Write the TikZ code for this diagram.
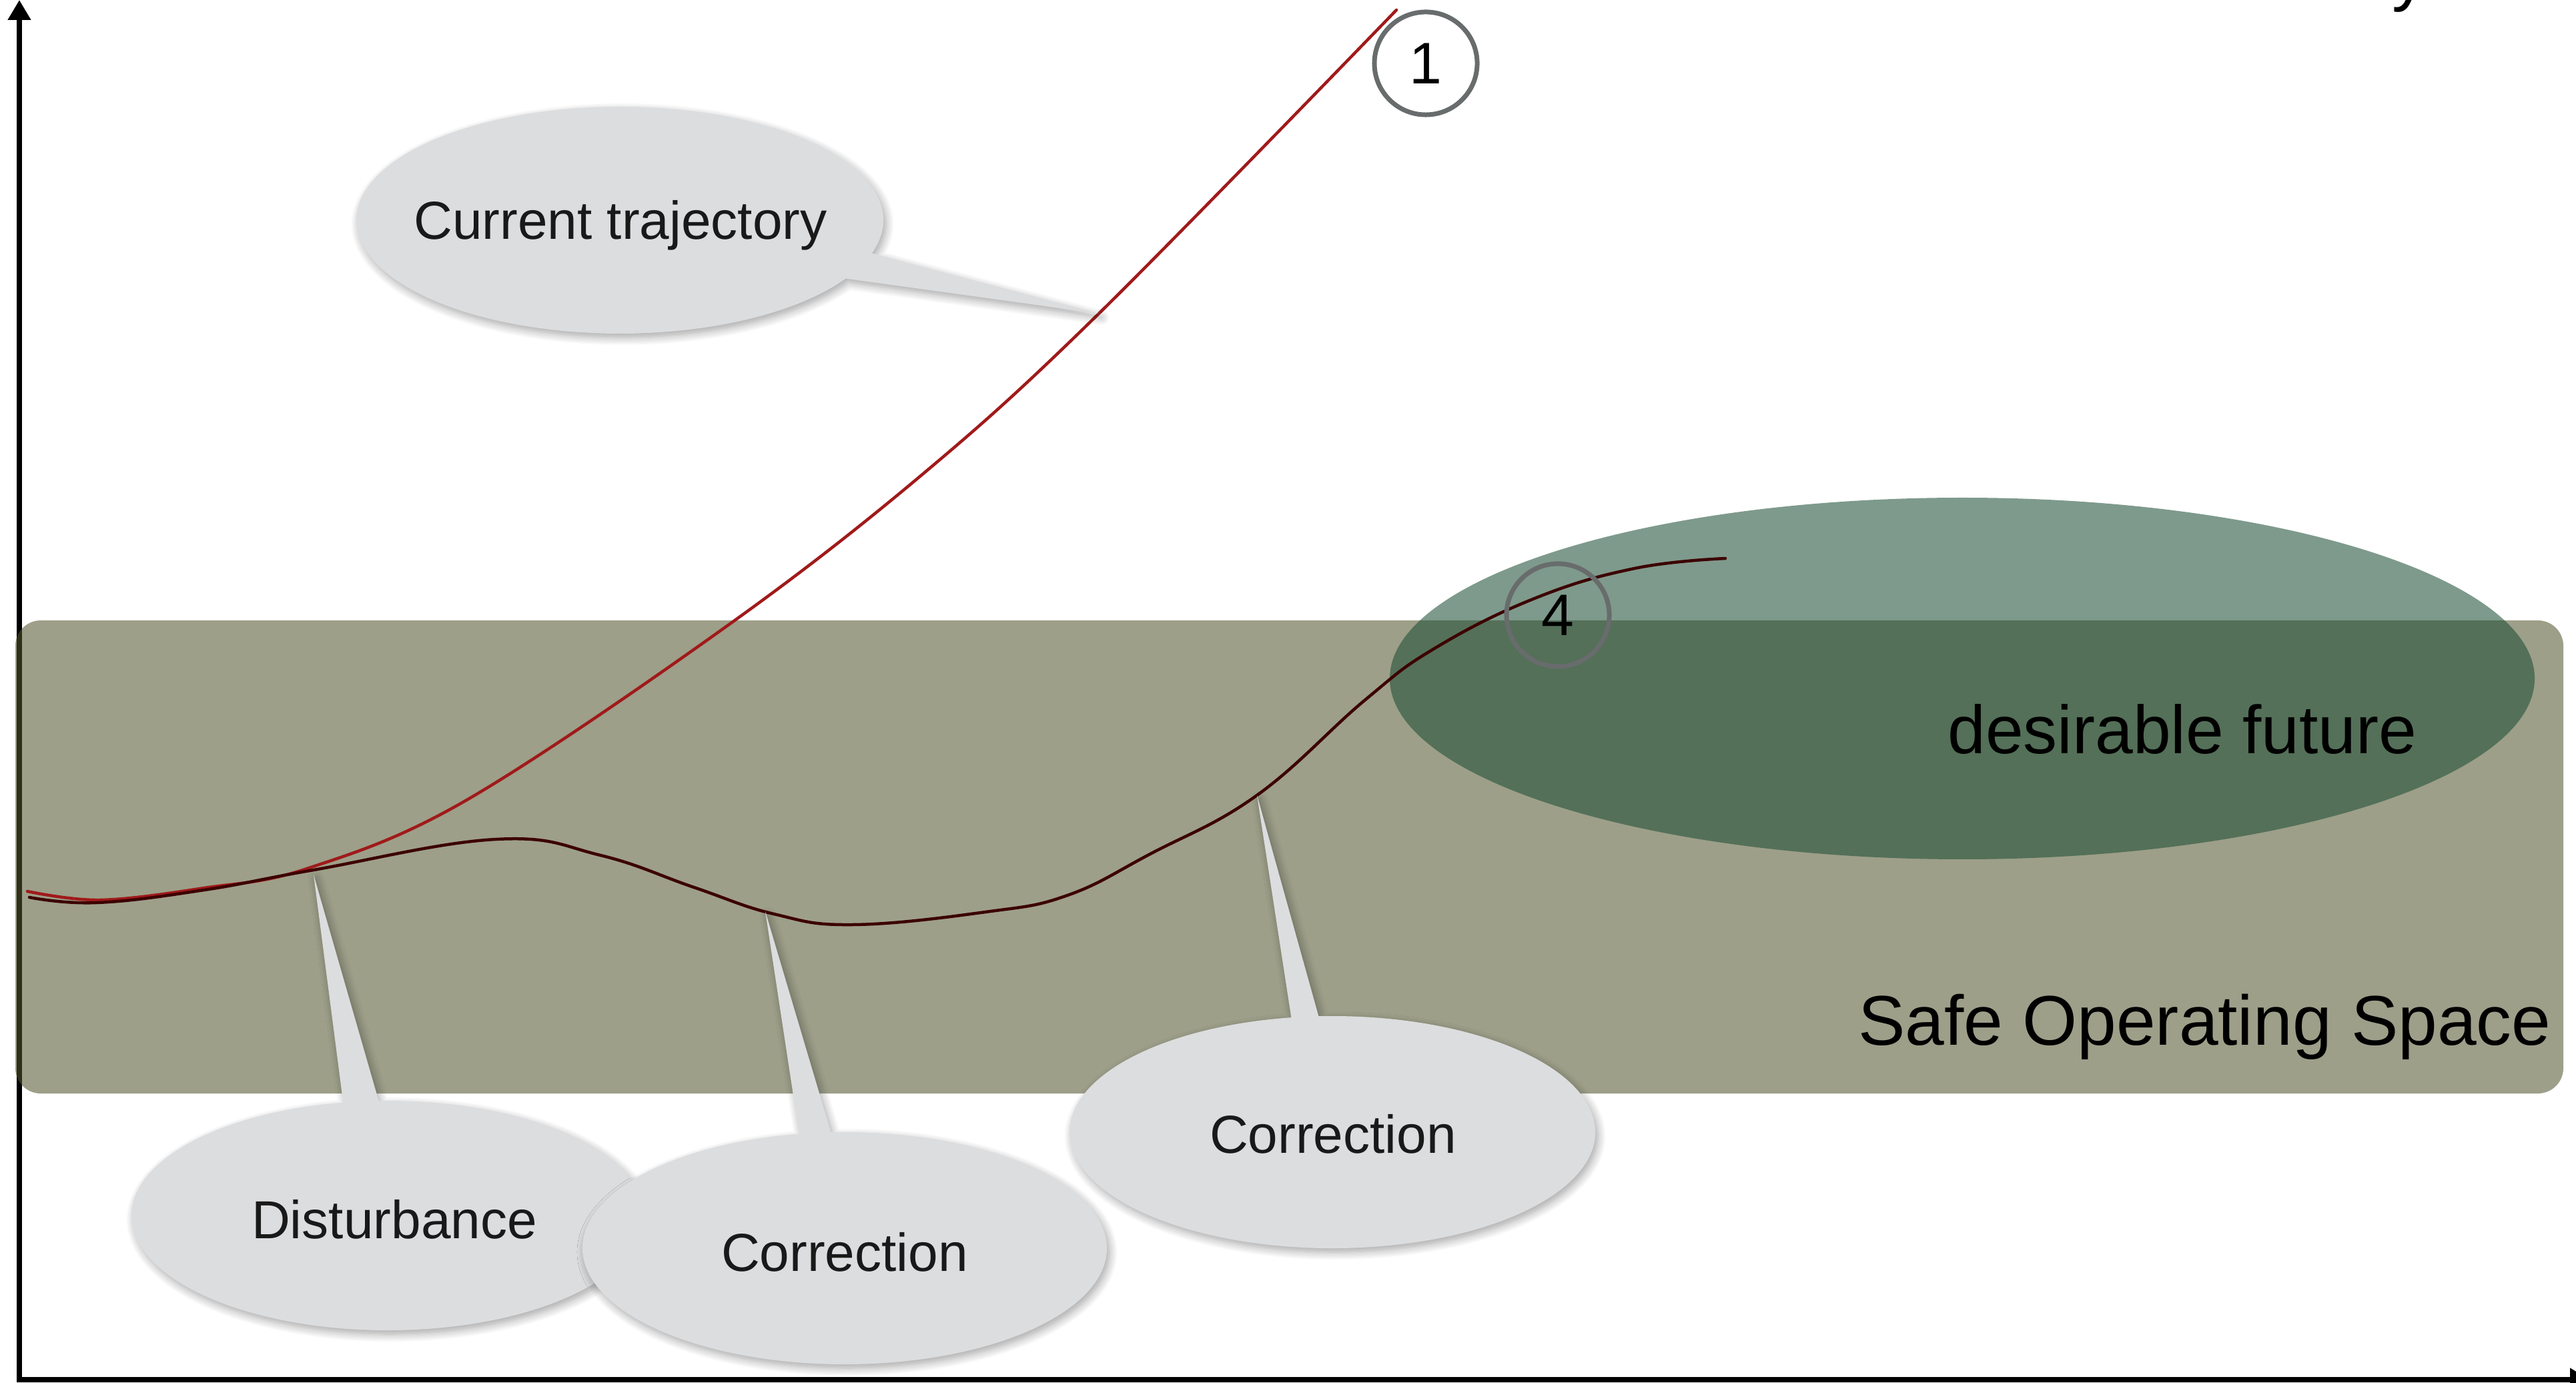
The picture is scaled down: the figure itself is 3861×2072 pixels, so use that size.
\documentclass[tikz,border=0pt]{standalone}
\usepackage{fontspec}
\setmainfont{Liberation Sans}
\usetikzlibrary{arrows.meta,calc,shadows.blur}
\definecolor{bubblegray}{RGB}{220,221,223}
\definecolor{sosfill}{RGB}{82,86,47}
\definecolor{futfill}{RGB}{29,78,52}
\definecolor{trajred}{RGB}{160,26,26}
\definecolor{trajdark}{RGB}{60,0,0}
\definecolor{circgray}{RGB}{104,108,108}
\tikzset{
  axisline/.style={line width=0.08cm, line join=miter,
    {Triangle[length=0.30cm,width=0.33cm]}-{Triangle[length=0.30cm,width=0.33cm]}},
  sosbox/.style={fill=sosfill, fill opacity=0.57, rounded corners=0.38cm},
  futzone/.style={fill=futfill, fill opacity=0.57},
  bubble/.style={fill=bubblegray, blur shadow={shadow xshift=0.04cm, shadow yshift=-0.06cm,
    shadow blur radius=0.12cm, shadow blur steps=10, shadow opacity=35}},
  bubbletext/.style={anchor=base, inner sep=0pt, text=black!90, font=\fontsize{22.8}{27}\selectfont},
  bigtext/.style={inner sep=0pt, text=black, font=\fontsize{29}{34}\selectfont},
  redtraj/.style={draw=trajred, line width=0.045cm, line cap=round},
  darktraj/.style={draw=trajdark, line width=0.045cm, line cap=round},
  numcirc/.style={circle, draw=circgray, line width=0.07cm, minimum size=1.54cm,
    inner sep=0pt, text=black, font=\fontsize{25}{25}\selectfont}
}
\begin{document}
\begin{tikzpicture}[x=0.01cm,y=0.01cm]
\useasboundingbox (0,0) rectangle (3861,2072);

% axes
\coordinate (ytop) at (29,2072);
\coordinate (origin) at (29,4);
\coordinate (xend) at (3882,4);
\draw[axisline] (ytop) -- (origin) -- (xend);

% safe operating space
\path[sosbox] (23,433) rectangle (3842,1142);

% desirable future zone
\path[futzone] (2941,1055) ellipse[x radius=858, y radius=271];

\node[bigtext, anchor=base] (fut) at (3271,942) {desirable future};
\node[bigtext, anchor=base east, font=\fontsize{30}{34}\selectfont] (sos) at (3824,506) {Safe Operating Space};

% trajectories
\draw[redtraj] plot[smooth, tension=0.6] coordinates {
  (41,736) (150,723) (306,741) (460,770) (698,872) (1083,1129) (1379,1358) (1647,1602) (2093,2057)};
\draw[darktraj] plot[smooth, tension=0.7] coordinates {
  (44,727) (145,719) (306,738) (470,768) (744,814) (900,790) (1040,742) (1160,702) (1278,686)
  (1477,705) (1600,730) (1724,792) (1884,880) (2045,1022) (2150,1100) (2300,1175)
  (2450,1220) (2586,1235)};

% numbered circles
\node[numcirc] (n4) at (2335,1150) {4};
\node[numcirc] (n1) at (2137,1977) {1};

% speech bubbles
\coordinate (tipCT) at (1647,1602);
\coordinate (tipD) at (470,761);
\coordinate (tipC1) at (1147,706);
\coordinate (tipC2) at (1884,880);

\path[bubble] ($(929,1742)+(-17:395 and 170)$) arc[start angle=-17, end angle=329, x radius=395, y radius=170] -- (tipCT) -- cycle;
\node[bubbletext] (ct) at (930,1713) {Current trajectory};

\path[bubble] ($(581,250)+(100:384 and 172)$) arc[start angle=100, end angle=452, x radius=384, y radius=172] -- (tipD) -- cycle;
\node[bubbletext] (dist) at (591,216) {Disturbance};

\path[bubble] ($(1997,375)+(99:394 and 174)$) arc[start angle=99, end angle=453, x radius=394, y radius=174] -- (tipC2) -- cycle;
\node[bubbletext] (corr2) at (1998,344) {Correction};

\path[bubble] ($(1266,201)+(100:393 and 174)$) arc[start angle=100, end angle=453, x radius=393, y radius=174] -- (tipC1) -- cycle;
\node[bubbletext] (corr1) at (1266,167) {Correction};

% cut-off title letter at the top edge
\node[anchor=base west, inner sep=0pt, font=\fontsize{30}{30}\selectfont] (ycut) at (3585,2075) {y};
\end{tikzpicture}
\end{document}
